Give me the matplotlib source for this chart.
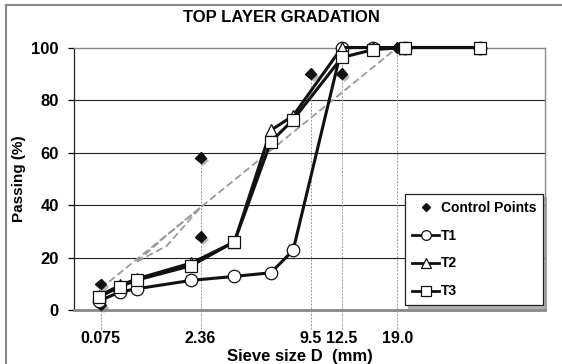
import numpy as np
import matplotlib
matplotlib.use('Agg')
import matplotlib.pyplot as plt
import matplotlib.patheffects as pe
from matplotlib.lines import Line2D

# sieve sizes of the test gradations (mm)
sieve_mm = [0.063, 0.25, 0.5, 2.0, 4.0, 6.3, 8.0, 12.5, 16.0, 20.0, 31.5]
t1 = [3.5, 7.0, 8.2, 11.4, 12.9, 14.3, 22.8, 100, 100, 100, 100]
t2 = [5.5, 9.5, 12.0, 18.0, 26.0, 68.5, 74.0, 100, 100, 100, 100]
t3 = [5.0, 9.0, 11.5, 17.0, 26.1, 64.1, 72.5, 96.2, 99.2, 100, 100]

# Superpave 12.5 mm control points
ctrl_mm = [0.075, 0.075, 2.36, 2.36, 9.5, 12.5, 12.5, 19.0]
ctrl_pct = [2, 10, 28, 58, 90, 90, 100, 100]

# sieves marked on the axis, with drop lines up to the upper control value
tick_mm = [0.075, 2.36, 9.5, 12.5, 19.0]
tick_labels = ["0.075", "2.36", "9.5", "12.5", "19.0"]
drop_top = [10, 58, 90, 100, 100]

# maximum density line and restricted zone
mdl_mm = [0.075, 19.0]
rz_mm = [0.5, 1.18, 2.36]
rz_upper = [18.5, 28.5, 39.1]
rz_lower = [18.5, 24.5, 39.1]

P = 0.45
mdl_pct = [100 * (d / 19.0) ** P for d in mdl_mm]


def fwd(x):
    x = np.asarray(x, dtype=float)
    return np.sign(x) * np.abs(x) ** P


def inv(x):
    x = np.asarray(x, dtype=float)
    return np.sign(x) * np.abs(x) ** (1 / P)


plt.rcParams['font.family'] = ['Liberation Sans', 'DejaVu Sans']
plt.rcParams['font.weight'] = 'bold'

fig = plt.figure(figsize=(5.62, 3.64), dpi=100)
fig.subplots_adjust(left=0.1317, right=0.9698, top=0.8695, bottom=0.1475)
ax = fig.add_subplot(111)
ax.set_xscale('function', functions=(fwd, inv))
ax.set_xlim(0, inv(5.48))
ax.set_ylim(0, 100)

for y in [20, 40, 60, 80]:
    ax.axhline(y, color="#222222", linewidth=0.8, zorder=1)

for d, top in zip(tick_mm, drop_top):
    ax.plot([d, d], [-7, top], color="#999999", linewidth=0.7,
            linestyle=(0, (2, 1.5)), clip_on=False, zorder=1)

gray = dict(color="#999999", linewidth=1.3, linestyle=(0, (4, 2)), zorder=2)
ax.plot(mdl_mm, mdl_pct, **gray)
ax.plot(rz_mm, rz_upper, **gray)
ax.plot(rz_mm, rz_lower, **gray)

shadow = [pe.SimplePatchShadow(offset=(2, -2), shadow_rgbFace="#888888", alpha=0.6), pe.Normal()]
ax.plot(ctrl_mm, ctrl_pct, linestyle="none", marker="D", markersize=5.5,
        color="#111111", clip_on=False, zorder=3, path_effects=shadow)

style = dict(color="#111111", linewidth=2.2, markersize=9, markerfacecolor="white",
             markeredgecolor="#111111", markeredgewidth=0.9)
ax.plot(sieve_mm, t1, marker="o", zorder=4, clip_on=False, **style)
ax.plot(sieve_mm, t2, marker="^", zorder=5, clip_on=False, **style)
ax.plot(sieve_mm, t3, marker="s", zorder=6, clip_on=False, **style)

for s in ["top", "right"]:
    ax.spines[s].set_color("#888888")
    ax.spines[s].set_linewidth(1.0)
ax.spines["bottom"].set_color("#888888")
ax.spines["bottom"].set_linewidth(2.0)
ax.spines["left"].set_color("#222222")
ax.spines["left"].set_linewidth(0.9)

ax.set_yticks([0, 20, 40, 60, 80, 100])
ax.tick_params(axis="y", length=4, width=0.9, pad=7, labelsize=12)
ax.set_xticks(tick_mm, tick_labels)
ax.tick_params(axis="x", length=0, pad=15, labelsize=11.5)
ax.minorticks_off()
ax.set_ylabel("Passing (%)", fontsize=11, fontweight="bold", labelpad=4)
fig.text(300 / 562, 1 - 356 / 364, "Sieve size D  (mm)", ha="center", va="center",
         fontsize=12, fontweight="bold")
fig.text(281 / 562, 1 - 18 / 364, "TOP LAYER GRADATION", ha="center", va="center",
         fontsize=12, fontweight="bold")

handles = [
    Line2D([], [], linestyle="none", marker="D", markersize=4.5, color="#111111"),
    Line2D([], [], marker="o", **style),
    Line2D([], [], marker="^", **style),
    Line2D([], [], marker="s", **style),
]
for h in handles[1:]:
    h.set_markersize(7)
    h.set_linewidth(2)
leg = ax.legend(handles, ["Control Points", "T1", "T2", "T3"], loc="lower right",
                bbox_to_anchor=(0.9964, 0.019), fancybox=False,
                shadow={"color": "#999999", "alpha": 0.7},
                framealpha=1, edgecolor="#222222", fontsize=10, handlelength=2.0,
                handletextpad=0.1, labelspacing=1.0, borderpad=0.5, borderaxespad=0)
leg.get_frame().set_linewidth(0.9)
leg.set_zorder(10)

# outer chart frame (top and left edges visible)
fig.add_artist(Line2D([6 / 562, 6 / 562], [0, 1 - 5 / 364], transform=fig.transFigure,
                      color="#888888", linewidth=1.5))
fig.add_artist(Line2D([6 / 562, 1], [1 - 5 / 364, 1 - 5 / 364], transform=fig.transFigure,
                      color="#888888", linewidth=1.5))

fig.savefig("out.png", dpi=100, facecolor="white")
plt.close(fig)
